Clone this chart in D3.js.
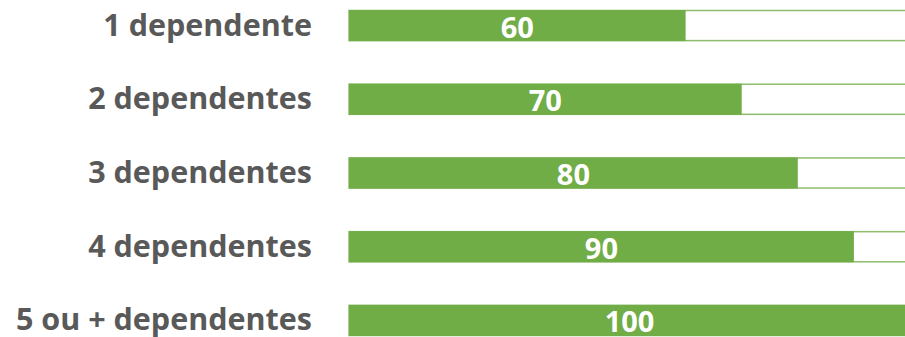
<!DOCTYPE html>
<html>
<head>
<meta charset="utf-8">
<script src="https://cdn.jsdelivr.net/npm/d3@7"></script>
<style>
  body { margin: 0; background: #fff; overflow: hidden; }
  text { font-family: "Open Sans", sans-serif; font-weight: bold; }
</style>
</head>
<body>
<svg id="drawing_region"></svg>
<script>
const categories = ["1 dependente", "2 dependentes", "3 dependentes", "4 dependentes", "5 ou + dependentes"];
const values = [60, 70, 80, 90, 100];
const maxValue = 100;

const data = categories.map((c, i) => ({ label: c, value: values[i] }));

const config = {
    parent: '#drawing_region',
    width: 905,
    height: 337,
    left: 349,
    right: 910,
    top: 10,
    bottom: 336
};

const svg = d3.select(config.parent)
    .attr('width', config.width)
    .attr('height', config.height);

const xscale = d3.scaleLinear()
    .domain([0, maxValue])
    .range([config.left, config.right]);

const yscale = d3.scaleBand()
    .domain(categories)
    .range([config.top, config.bottom])
    .paddingInner(0.578)
    .paddingOuter(0);

const green = '#70ad47';

// outline track (full scale)
svg.selectAll('.track')
    .data(data)
    .join('rect')
    .attr('class', 'track')
    .attr('x', xscale(0))
    .attr('y', d => yscale(d.label) + 0.5)
    .attr('width', xscale(maxValue) - xscale(0))
    .attr('height', yscale.bandwidth() - 1)
    .attr('fill', 'white')
    .attr('stroke', green)
    .attr('stroke-opacity', 0.8)
    .attr('stroke-width', 1.5);

// value bars
svg.selectAll('.bar')
    .data(data)
    .join('rect')
    .attr('class', 'bar')
    .attr('x', xscale(0))
    .attr('y', d => yscale(d.label))
    .attr('width', d => xscale(d.value) - xscale(0))
    .attr('height', yscale.bandwidth())
    .attr('fill', green);

// category labels
svg.selectAll('.cat')
    .data(data)
    .join('text')
    .attr('class', 'cat')
    .attr('x', 312)
    .attr('y', d => yscale(d.label) + yscale.bandwidth() / 2 + 10)
    .attr('text-anchor', 'end')
    .attr('fill', '#595959')
    .attr('font-size', 30.5)
    .text(d => d.label);

// value labels
svg.selectAll('.val')
    .data(data)
    .join('text')
    .attr('class', 'val')
    .attr('x', d => (xscale(0) + xscale(d.value)) / 2)
    .attr('y', d => yscale(d.label) + yscale.bandwidth() / 2 + 12)
    .attr('text-anchor', 'middle')
    .attr('fill', 'white')
    .attr('font-size', 29)
    .text(d => d.value);
</script>
</body>
</html>
